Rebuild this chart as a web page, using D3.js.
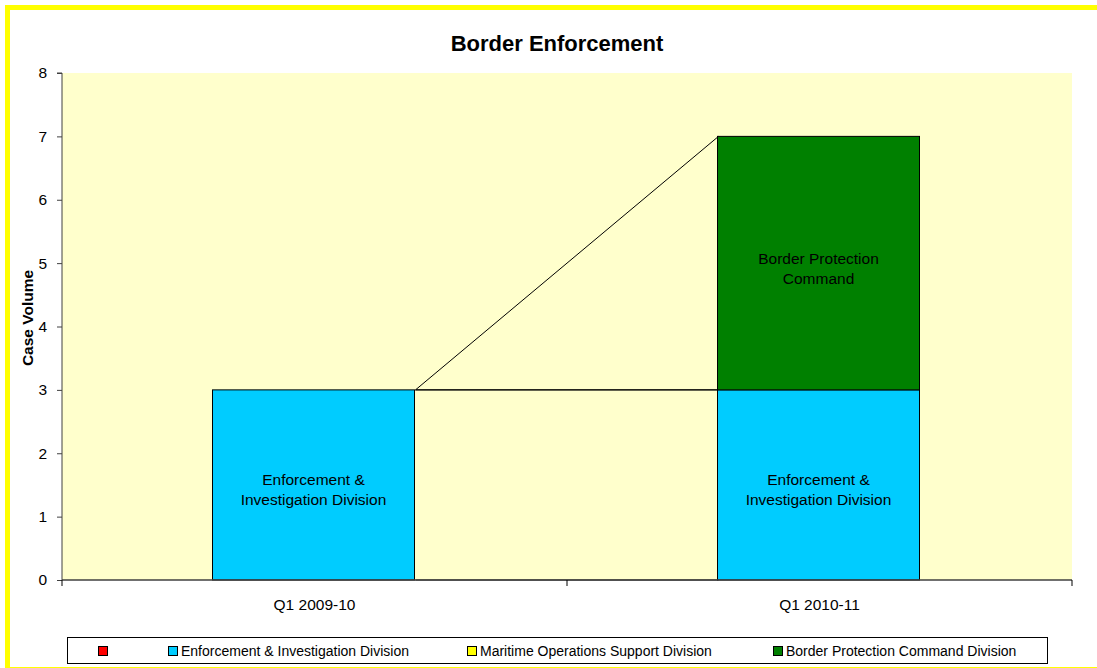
<!DOCTYPE html>
<html>
<head>
<meta charset="utf-8">
<script src="https://cdn.jsdelivr.net/npm/d3@7"></script>
<style>
  body { margin: 0; background: #fff; }
  text { font-family: "Liberation Sans", Arial, sans-serif; fill: #000; }
</style>
</head>
<body>
<script>
var width = 1097,
    height = 668;

// data
var categories = ["Q1 2009-10", "Q1 2010-11"];
var seriesNames = ["", "Enforcement & Investigation Division", "Maritime Operations Support Division", "Border Protection Command Division"];
var seriesColors = ["#ff0000", "#00ccff", "#ffff00", "#008000"];
var blankValues = [0, 0];
var eidValues = [3, 3];
var maritimeValues = [0, 0];
var bpcValues = [0, 4];
var yTicks = [0, 1, 2, 3, 4, 5, 6, 7, 8];
// text written inside the segments
var segLabels = [null, ["Enforcement &", "Investigation Division"], null, ["Border Protection", "Command"]];

var margin = {left: 62, right: 25, top: 73, bottom: 88};

var svg = d3.select("body").append("svg")
    .attr("width", width)
    .attr("height", height);

// yellow frame
svg.append("rect")
    .attr("x", 7.5).attr("y", 7.5)
    .attr("width", 1110).attr("height", 662)
    .attr("fill", "none")
    .attr("stroke", "#ffff00")
    .attr("stroke-width", 5);

var x = d3.scaleBand()
    .domain(categories)
    .range([margin.left, width - margin.right])
    .paddingInner(0.6)
    .paddingOuter(0.3);

var y = d3.scaleLinear()
    .domain([0, 8])
    .range([height - margin.bottom, margin.top]);

// plot background
svg.append("rect")
    .attr("x", margin.left).attr("y", margin.top)
    .attr("width", width - margin.right - margin.left)
    .attr("height", y(0) - margin.top)
    .attr("fill", "#ffffcc");

// stack series
var allSeries = [blankValues, eidValues, maritimeValues, bpcValues];
var stacked = [];
var base = categories.map(function () { return 0; });
allSeries.forEach(function (vals, s) {
    var layer = vals.map(function (v, i) {
        var d = {s: s, i: i, y0: base[i], y1: base[i] + v, v: v};
        base[i] += v;
        return d;
    });
    stacked.push(layer);
});

// series lines between bars
var line = d3.line()
    .x(function (d) { return d[0]; })
    .y(function (d) { return d[1]; });
stacked.forEach(function (layer) {
    svg.append("path")
        .attr("d", line([
            [x(categories[0]) + x.bandwidth(), y(layer[0].y1)],
            [x(categories[1]), y(layer[1].y1)]
        ]))
        .attr("stroke", "#000")
        .attr("stroke-width", 1)
        .attr("fill", "none");
});

// bars
stacked.forEach(function (layer) {
    layer.filter(function (d) { return d.v > 0; }).forEach(function (d) {
        svg.append("rect")
            .attr("x", x(categories[d.i]) - 1)
            .attr("y", y(d.y1))
            .attr("width", x.bandwidth())
            .attr("height", y(d.y0) - y(d.y1))
            .attr("fill", seriesColors[d.s])
            .attr("stroke", "#000")
            .attr("stroke-width", 1);
        var lbl = segLabels[d.s];
        if (lbl) {
            var cx = x(categories[d.i]) + x.bandwidth() / 2 - 1;
            var cy = (y(d.y0) + y(d.y1)) / 2;
            svg.append("g").selectAll("text")
                .data(lbl)
                .enter().append("text")
                .attr("x", cx)
                .attr("y", function (t, k) { return cy - 5 + k * 20; })
                .attr("dominant-baseline", "central")
                .attr("text-anchor", "middle")
                .style("font-size", "15.5px")
                .text(function (t) { return t; });
        }
    });
});

// y axis
var yAxis = d3.axisLeft(y).tickValues(yTicks).tickSize(5).tickPadding(10);
var gy = svg.append("g")
    .attr("transform", "translate(" + margin.left + ",0)")
    .call(yAxis);
gy.selectAll("text").style("font-size", "15.5px").style("font-family", "\"Liberation Sans\", Arial, sans-serif");
gy.selectAll("line, path").attr("stroke", "#404040");
gy.select(".domain").attr("d", "M-5," + y(8) + "H0V" + y(0));

// x axis: ticks on the category boundaries
var boundaries = [margin.left, margin.left + x.step(), width - margin.right];
var gx = svg.append("g");
gx.append("line")
    .attr("x1", margin.left).attr("x2", width - margin.right)
    .attr("y1", y(0)).attr("y2", y(0))
    .attr("stroke", "#404040").attr("stroke-width", 1.5);
gx.selectAll("line.tick")
    .data(boundaries)
    .enter().append("line")
    .attr("class", "tick")
    .attr("x1", function (d) { return d; }).attr("x2", function (d) { return d; })
    .attr("y1", y(0)).attr("y2", y(0) + 6)
    .attr("stroke", "#000");
gx.selectAll("text")
    .data(categories)
    .enter().append("text")
    .attr("x", function (d) { return x(d) + x.bandwidth() / 2; })
    .attr("y", y(0) + 30)
    .attr("text-anchor", "middle")
    .style("font-size", "15.5px")
    .text(function (d) { return d; });

// title
svg.append("text")
    .attr("x", 557).attr("y", 51)
    .attr("text-anchor", "middle")
    .style("font-size", "22px")
    .style("font-weight", "bold")
    .text("Border Enforcement");

svg.append("text")
    .attr("transform", "translate(33,318) rotate(-90)")
    .attr("text-anchor", "middle")
    .style("font-size", "15.5px")
    .style("font-weight", "bold")
    .text("Case Volume");

// legend
var legend = svg.append("g");
legend.append("rect")
    .attr("x", 67.5).attr("y", 637.5)
    .attr("width", 980).attr("height", 26)
    .attr("fill", "#fff")
    .attr("stroke", "#000");
var legendX = [98, 168, 467, 773];
var items = legend.selectAll("g.item")
    .data(seriesNames)
    .enter().append("g")
    .attr("class", "item")
    .attr("transform", function (d, i) { return "translate(" + legendX[i] + ",646)"; });
items.append("rect")
    .attr("x", 0.5).attr("y", 0.5)
    .attr("width", 9).attr("height", 9)
    .attr("fill", function (d, i) { return seriesColors[i]; })
    .attr("stroke", "#000");
items.append("text")
    .attr("x", 13).attr("y", 9.5)
    .style("font-size", "14px")
    .text(function (d) { return d; });
</script>
</body>
</html>
